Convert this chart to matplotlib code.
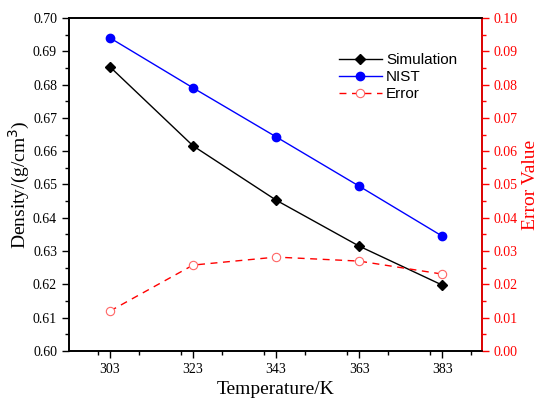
import matplotlib
matplotlib.use("Agg")
import matplotlib.pyplot as plt
from matplotlib.ticker import MultipleLocator

temperature = [303, 323, 343, 363, 383]
simulation = [0.6853, 0.6616, 0.6453, 0.6315, 0.6198]
nist = [0.6940, 0.6790, 0.6643, 0.6495, 0.6345]
error = [0.0120, 0.0258, 0.0282, 0.0270, 0.0231]

serif = "Liberation Serif"
sans = "Liberation Sans"

fig = plt.figure(figsize=(5.38, 3.98), dpi=100)
ax = fig.add_axes([0.128, 0.118, 0.768, 0.837])
ax2 = ax.twinx()

l1, = ax.plot(temperature, simulation, color="black", marker="D", markersize=5, lw=1, label="Simulation")
l2, = ax.plot(temperature, nist, color="blue", marker="o", markersize=6, lw=1, label="NIST")
l3, = ax2.plot(temperature, error, color="red", ls=(0, (5, 4)), marker="o", markersize=6,
               markerfacecolor="white", markeredgecolor="#ff6666", markeredgewidth=0.8, lw=1, label="Error")

ax.set_xlim(293.1, 392.6)
ax.set_ylim(0.60, 0.70)
ax2.set_ylim(0.0, 0.10)

ax.set_xticks(temperature)
ax.xaxis.set_minor_locator(MultipleLocator(10))
ax.yaxis.set_major_locator(MultipleLocator(0.01))
ax.yaxis.set_minor_locator(MultipleLocator(0.005))
ax2.yaxis.set_major_locator(MultipleLocator(0.01))
ax2.yaxis.set_minor_locator(MultipleLocator(0.005))
ax.yaxis.set_major_formatter(matplotlib.ticker.FormatStrFormatter("%.2f"))
ax2.yaxis.set_major_formatter(matplotlib.ticker.FormatStrFormatter("%.2f"))

for a in (ax, ax2):
    for s in a.spines.values():
        s.set_linewidth(1.2)
ax.tick_params(axis="both", which="major", direction="out", length=5, width=1, labelsize=10)
ax.tick_params(axis="both", which="minor", direction="out", length=3, width=1)
ax2.tick_params(axis="y", which="major", direction="out", length=5, width=1, colors="red", labelsize=10)
ax2.tick_params(axis="y", which="minor", direction="out", length=3, width=1, colors="red")
ax2.spines["right"].set_color("red")

for lab in ax.get_xticklabels() + ax.get_yticklabels() + ax2.get_yticklabels():
    lab.set_fontfamily(serif)

ax.set_xlabel("Temperature/K", fontfamily=serif, fontsize=14, labelpad=4)
ax.set_ylabel("Density/(g/cm$^3$)", fontfamily=serif, fontsize=14, labelpad=1)
ax2.set_ylabel("Error Value", fontfamily=serif, fontsize=14, color="red", labelpad=3)

leg = ax.legend(handles=[l1, l2, l3], loc="upper left", bbox_to_anchor=(0.62, 0.935),
                frameon=False, prop={"family": sans, "size": 11},
                handlelength=2.8, handletextpad=0.3, labelspacing=0.2)

fig.savefig("out.png", dpi=100)
